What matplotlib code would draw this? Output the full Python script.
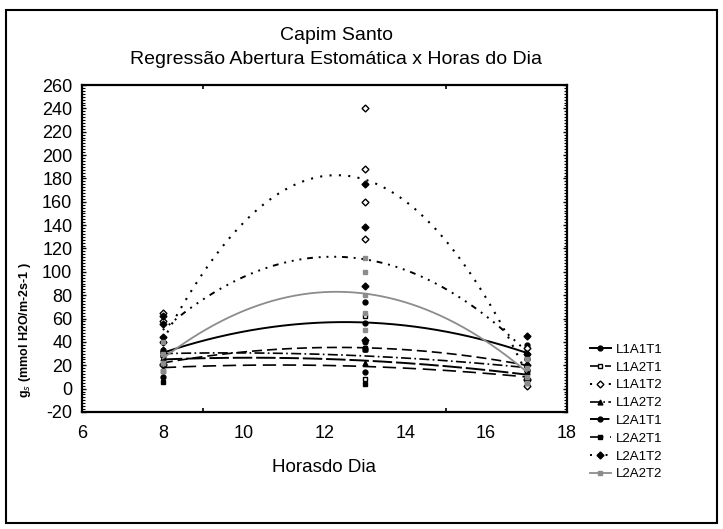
import numpy as np
import matplotlib
matplotlib.use("Agg")
import matplotlib.pyplot as plt
from matplotlib.ticker import MultipleLocator
from matplotlib.patches import Rectangle

plt.rcParams['font.family'] = ['Liberation Sans', 'DejaVu Sans']
plt.rcParams['axes.unicode_minus'] = False

hours = [8, 13, 17]
labels = ["L1A1T1", "L1A2T1", "L1A1T2", "L1A2T2", "L2A1T1", "L2A2T1", "L2A1T2", "L2A2T2"]

# observed values per series at 8, 13 and 17 h
L1A1T1 = [[28, 33, 31], [40, 56, 74], [25, 30, 37]]
L1A2T1 = [[15, 29], [8, 35, 62], [14, 26]]
L1A1T2 = [[65, 58, 20, 21], [240, 188, 160, 128], [35, 8, 2, 7]]
L1A2T2 = [[26, 34], [22, 34], [14, 22]]
L2A1T1 = [[10, 40], [14, 34], [8, 16]]
L2A2T1 = [[6, 30], [4, 34], [5, 15]]
L2A1T2 = [[62, 55, 40, 44], [175, 138, 88, 42], [45, 30, 20]]
L2A2T2 = [[40, 30, 22, 15, 22], [112, 100, 80, 65, 50], [25, 18, 10, 5]]

series = [L1A1T1, L1A2T1, L1A1T2, L1A2T2, L2A1T1, L2A2T1, L2A1T2, L2A2T2]

styles = [
    dict(color='black', ls='-', lw=1.4, marker='o', mfc='black'),
    dict(color='black', ls=(0, (6, 3)), lw=1.2, marker='s', mfc='white'),
    dict(color='black', ls=(0, (1, 3.5)), lw=1.5, marker='D', mfc='white'),
    dict(color='black', ls=(0, (6, 2, 1, 2)), lw=1.2, marker='^', mfc='black'),
    dict(color='black', ls=(0, (10, 2)), lw=1.4, marker='o', mfc='black'),
    dict(color='black', ls=(0, (8, 4)), lw=1.2, marker='s', mfc='black'),
    dict(color='black', ls=(0, (1, 3, 1, 3, 1, 3, 3, 3)), lw=1.4, marker='D', mfc='black'),
    dict(color='#8c8c8c', ls='-', lw=1.3, marker='s', mfc='#8c8c8c'),
]

W, H = 723, 529
fig = plt.figure(figsize=(W / 100, H / 100), dpi=100)
fig.patches.append(Rectangle((6 / W, 1 - 523 / H), 711 / W, 513 / H, transform=fig.transFigure,
                             fill=False, edgecolor='black', lw=1.5))

ax = fig.add_axes([82 / W, 1 - 412 / H, (567 - 82) / W, (412 - 85) / H])

xs = np.linspace(8, 17, 200)
handles = []
for lab, data, st in zip(labels, series, styles):
    xv = np.concatenate([[h] * len(v) for h, v in zip(hours, data)])
    yv = np.concatenate(data)
    coef = np.polyfit(xv, yv, 2)
    ax.plot(xs, np.polyval(coef, xs), color=st['color'], ls=st['ls'], lw=st['lw'])
    ax.plot(xv, yv, ls='none', marker=st['marker'], ms=3.5, mfc=st['mfc'], mec=st['color'], mew=1)
    h, = ax.plot([], [], color=st['color'], ls=st['ls'], lw=st['lw'], marker=st['marker'], ms=3.5,
                 mfc=st['mfc'], mec=st['color'])
    handles.append(h)

ax.set_xlim(6, 18)
ax.set_ylim(-20, 260)
ax.xaxis.set_major_locator(MultipleLocator(2))
ax.xaxis.set_minor_locator(MultipleLocator(3))
ax.yaxis.set_major_locator(MultipleLocator(20))
ax.yaxis.set_minor_locator(MultipleLocator(2.5))
ax.tick_params(which='both', direction='in', top=True, right=True, labelsize=13)
ax.tick_params(axis='x', which='major', length=0, pad=9)
ax.tick_params(axis='x', which='minor', length=3, width=1.2)
ax.tick_params(axis='y', which='major', length=3, width=1, pad=7)
ax.tick_params(axis='y', which='minor', length=2, width=0.8)
for s in ax.spines.values():
    s.set_linewidth(1.6)

fig.text(324 / W, 1 - 467 / H, "Horasdo Dia", ha='center', va='center', fontsize=13.5)
fig.text(336 / W, 1 - 35 / H, "Capim Santo", ha='center', va='center', fontsize=14)
fig.text(336 / W, 1 - 60 / H, "Regressão Abertura Estomática x Horas do Dia", ha='center', va='center',
         fontsize=14)
fig.text(25 / W, 1 - 330 / H, "g$_s$ (mmol H2O/m-2s-1 )", rotation=90, ha='center', va='center',
         fontsize=9, fontweight='bold')

fig.legend(handles, labels, loc='upper left', bbox_to_anchor=(583 / W, 1 - 337 / H), frameon=False,
           fontsize=9.5, handlelength=1.6, handletextpad=0.4, labelspacing=0.42, borderpad=0)

fig.savefig("out.png", dpi=100)
